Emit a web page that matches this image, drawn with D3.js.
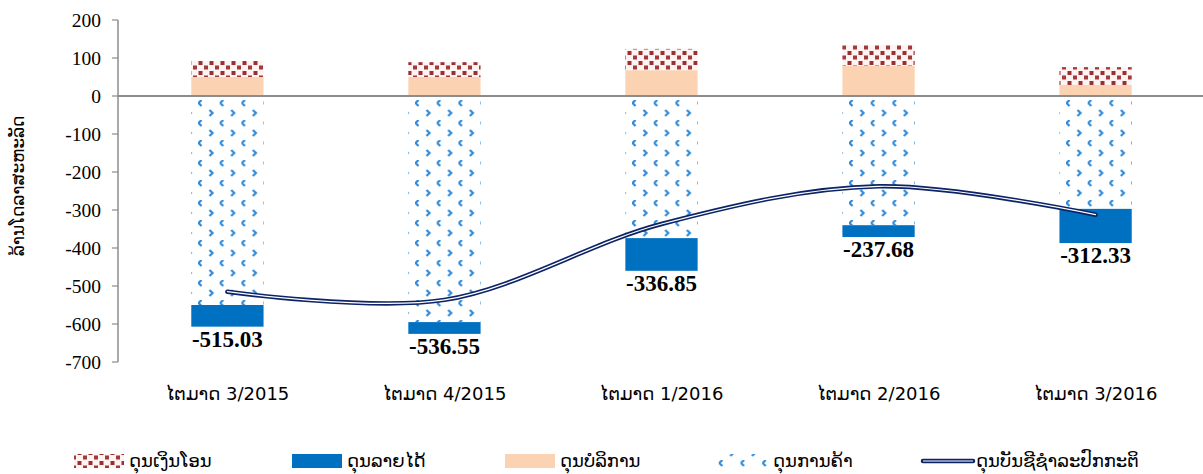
<!DOCTYPE html>
<html>
<head>
<meta charset="utf-8">
<script src="https://cdn.jsdelivr.net/npm/d3@7"></script>
<style>
  html, body { margin: 0; padding: 0; background: #fff; }
  svg { display: block; }
</style>
</head>
<body>
<svg id="chart" width="1203" height="474"></svg>
<script>
const categories = ["ໄຕມາດ 3/2015", "ໄຕມາດ 4/2015", "ໄຕມາດ 1/2016", "ໄຕມາດ 2/2016", "ໄຕມາດ 3/2016"];
const transfers = [42, 39, 56, 55, 47];        // ດຸນເງິນໂອນ
const income = [-57, -31, -86, -31, -90];       // ດຸນລາຍໄດ້
const services = [50, 50, 68, 79, 29];          // ດຸນບໍລິການ
const goods = [-550, -595, -374, -340, -297];   // ດຸນການຄ້າ
const currentAccount = [-515.03, -536.55, -336.85, -237.68, -312.33]; // ດຸນບັນຊີຊຳລະປົກກະຕິ
const yTicks = [200, 100, 0, -100, -200, -300, -400, -500, -600, -700];
const legendLabels = ["ດຸນເງິນໂອນ", "ດຸນລາຍໄດ້", "ດຸນບໍລິການ", "ດຸນການຄ້າ", "ດຸນບັນຊີຊຳລະປົກກະຕິ"];
const yTitle = "ລ້ານໂດລາສະຫະລັດ";

(function () {
const svg = d3.select("#chart");
const pl = 119, pr = 1204, pt0 = 20, pb = 362;

const x = d3.scaleBand().domain(categories).range([pl, pr]).paddingInner(0.667).paddingOuter(0.333);
const y = d3.scaleLinear().domain([-700, 200]).range([pb, pt0]);

const defs = svg.append("defs");
// transfers pattern (brown squares)
const pt = defs.append("pattern").attr("id", "pTransfer").attr("patternUnits", "userSpaceOnUse")
  .attr("width", 11).attr("height", 10);
pt.append("rect").attr("width", 11).attr("height", 10).attr("fill", "#fdf3f3");
pt.append("rect").attr("x", 0.5).attr("y", 1).attr("width", 4).attr("height", 4).attr("fill", "#9b2f2f");
pt.append("rect").attr("x", 6).attr("y", 5.5).attr("width", 4).attr("height", 4).attr("fill", "#a33a3a");
// goods pattern (blue chevrons)
const pg = defs.append("pattern").attr("id", "pGoods").attr("patternUnits", "userSpaceOnUse")
  .attr("width", 21.7).attr("height", 20).attr("x", 198).attr("y", y(0) + 4);
pg.append("rect").attr("width", 21.7).attr("height", 20).attr("fill", "#fff");
pg.append("path").attr("d", "M3.5,0 L0.5,3 L3.5,6").attr("fill", "none").attr("stroke", "#2f8ad8").attr("stroke-width", 2.2);
pg.append("path").attr("d", "M11.5,10 L14.5,13 L11.5,16").attr("fill", "none").attr("stroke", "#2f8ad8").attr("stroke-width", 2.2);

// y axis
const yAxisG = svg.append("g");
yAxisG.append("line").attr("x1", pl - 1).attr("x2", pl - 1).attr("y1", pt0).attr("y2", pb)
  .attr("stroke", "#8c8c8c").attr("stroke-width", 1.5);
yTicks.forEach(t => {
  yAxisG.append("line").attr("x1", pl - 7).attr("x2", pl - 1).attr("y1", y(t)).attr("y2", y(t))
    .attr("stroke", "#8c8c8c").attr("stroke-width", 1.2);
  yAxisG.append("text").attr("x", pl - 18).attr("y", y(t)).attr("dy", "0.35em")
    .attr("text-anchor", "end").attr("font-family", "Liberation Serif, serif").attr("font-size", 19.5)
    .attr("fill", "#000").text(t);
});
svg.append("text").attr("transform", `translate(24,${(pt0 + pb) / 2 - 5}) rotate(-90)`)
  .attr("text-anchor", "middle").attr("font-family", "DejaVu Sans, Noto Sans, sans-serif").attr("font-size", 17)
  .attr("fill", "#000").text(yTitle);

// bars
const bw = x.bandwidth();
const g = svg.append("g");
categories.forEach((c, i) => {
  const x0 = x(c);
  g.append("rect").attr("x", x0).attr("width", bw).attr("y", y(services[i])).attr("height", y(0) - y(services[i])).attr("fill", "#fbd3b2");
  g.append("rect").attr("x", x0).attr("width", bw).attr("y", y(services[i] + transfers[i])).attr("height", y(services[i]) - y(services[i] + transfers[i])).attr("fill", "url(#pTransfer)");
  g.append("rect").attr("x", x0).attr("width", bw).attr("y", y(0)).attr("height", y(goods[i]) - y(0)).attr("fill", "url(#pGoods)");
  g.append("rect").attr("x", x0).attr("width", bw).attr("y", y(goods[i])).attr("height", y(goods[i] + income[i]) - y(goods[i])).attr("fill", "#0070c0");
});

// zero line
svg.append("line").attr("x1", pl - 1).attr("x2", 1203).attr("y1", y(0)).attr("y2", y(0))
  .attr("stroke", "#8c8c8c").attr("stroke-width", 2);

// x labels
categories.forEach(c => {
  svg.append("text").attr("x", x(c) + bw / 2).attr("y", 394).attr("dy", "0.35em")
    .attr("text-anchor", "middle").attr("font-family", "DejaVu Sans, Noto Sans, sans-serif").attr("font-size", 18)
    .attr("fill", "#000").text(c);
});

// line
const line = d3.line().x((d, i) => x(categories[i]) + bw / 2).y(d => y(d)).curve(d3.curveCardinal.tension(0));
svg.append("path").attr("d", line(currentAccount)).attr("fill", "none").attr("stroke", "#0c2466")
  .attr("stroke-width", 4.5).attr("stroke-linecap", "round");
svg.append("path").attr("d", line(currentAccount)).attr("fill", "none").attr("stroke", "#fff")
  .attr("stroke-width", 1.2).attr("stroke-linecap", "round");

// data labels
categories.forEach((c, i) => {
  svg.append("text").attr("x", x(c) + bw / 2).attr("y", y(goods[i] + income[i]) + 12).attr("dy", "0.35em")
    .attr("text-anchor", "middle").attr("font-family", "Liberation Serif, serif").attr("font-weight", "bold")
    .attr("font-size", 23).attr("fill", "#000").text(currentAccount[i].toFixed(2));
});

// legend
const lg = svg.append("g");
const legendX = [74, 292, 505, 718, 921];
const legendFills = ["url(#pTransfer)", "#0070c0", "#fbd3b2", "url(#pGoods)", null];
legendLabels.forEach((lab, i) => {
  const lx = legendX[i];
  if (legendFills[i]) {
    lg.append("rect").attr("x", lx).attr("y", 454).attr("width", 50).attr("height", 14).attr("fill", legendFills[i]);
  } else {
    lg.append("line").attr("x1", lx + 2).attr("x2", lx + 52).attr("y1", 461).attr("y2", 461)
      .attr("stroke", "#0c2466").attr("stroke-width", 4.5).attr("stroke-linecap", "round");
    lg.append("line").attr("x1", lx + 2).attr("x2", lx + 52).attr("y1", 461).attr("y2", 461)
      .attr("stroke", "#fff").attr("stroke-width", 1.2);
  }
  lg.append("text").attr("x", lx + 55).attr("y", 461).attr("dy", "0.35em")
    .attr("font-family", "DejaVu Sans, Noto Sans, sans-serif").attr("font-size", 18).attr("fill", "#000").text(lab);
});
})();
</script>
</body>
</html>
